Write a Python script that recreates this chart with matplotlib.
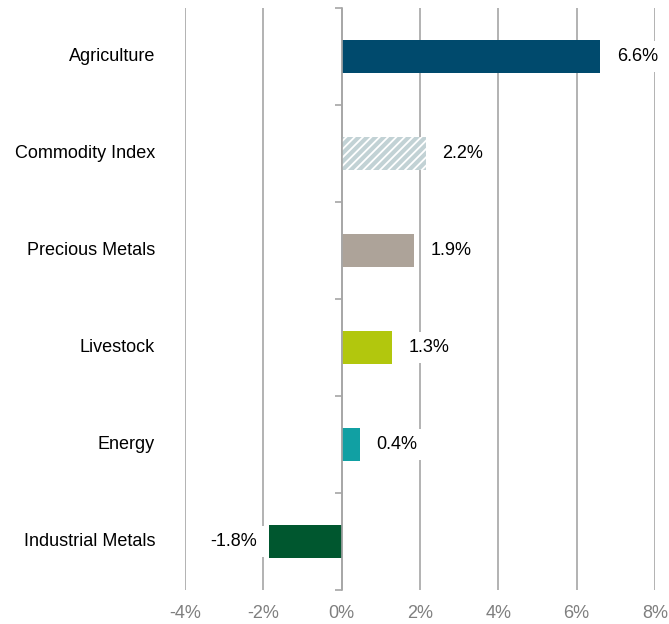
import matplotlib.pyplot as plt
from matplotlib.ticker import FixedLocator

plt.rcParams['font.family'] = ['Liberation Sans', 'DejaVu Sans']
plt.rcParams['hatch.linewidth'] = 1.3

# data, top to bottom (bar lengths, labels as printed)
categories = ["Agriculture", "Commodity Index", "Precious Metals",
              "Livestock", "Energy", "Industrial Metals"]
values = [6.6, 2.15, 1.85, 1.28, 0.46, -1.85]
value_labels = ["6.6%", "2.2%", "1.9%", "1.3%", "0.4%", "-1.8%"]
colors = ["#004A6D", "#C2D2D5", "#ADA399", "#B2C70D", "#11A0A3", "#00572F"]
hatches = [None, "////", None, None, None, None]
xticks = [-4, -2, 0, 2, 4, 6, 8]

fig = plt.figure(figsize=(6.69, 6.24), dpi=100)
ax = fig.add_axes([185 / 669, 1 - 590 / 624, 470 / 669, 582 / 624])

ypos = list(range(len(categories)))
for y, v, lab, c, h in zip(ypos, values, value_labels, colors, hatches):
    if h:
        ax.barh(y, v, height=0.33, color=c, edgecolor="white", linewidth=0, hatch=h, zorder=3)
    else:
        ax.barh(y, v, height=0.33, color=c, linewidth=0, zorder=3)
    off = 12 if v >= 0 else -9
    ax.annotate(lab, (v, y), xytext=(off, 0), textcoords="offset points",
                ha="left" if v >= 0 else "right", va="center", fontsize=13,
                bbox=dict(facecolor="white", edgecolor="none", pad=5), zorder=4)

ax.set_xlim(-4, 8)
ax.set_ylim(len(categories) - 0.5, -0.5)

# vertical grid lines
ax.set_xticks(xticks)
ax.set_xticklabels([f"{t}%" for t in xticks], color="#7F7F7F", fontsize=13)
ax.tick_params(axis="x", length=0, pad=11)
ax.grid(axis="x", color="#A6A6A6", linewidth=1.2, zorder=0)

# y axis sits at zero with ticks between categories
for s in ["top", "right", "bottom"]:
    ax.spines[s].set_visible(False)
ax.spines["left"].set_position(("data", 0))
ax.spines["left"].set_color("#A6A6A6")
ax.spines["left"].set_linewidth(1.2)
ax.spines["left"].set_zorder(5)
ax.set_yticks(ypos)
ax.set_yticklabels([])
ax.tick_params(axis="y", which="major", length=0)
ax.yaxis.set_minor_locator(FixedLocator([i - 0.5 for i in range(len(categories) + 1)]))
ax.tick_params(axis="y", which="minor", length=5, color="#A6A6A6", width=1.2)

for y, name in zip(ypos, categories):
    ax.text(-30 / 470, y, name, transform=ax.get_yaxis_transform(),
            ha="right", va="center", fontsize=13)

fig.savefig("out.png", dpi=100)
